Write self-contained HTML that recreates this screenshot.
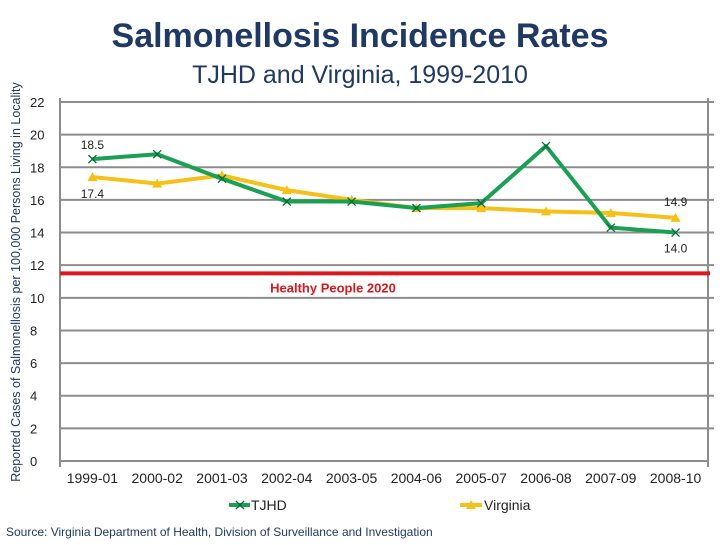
<!DOCTYPE html>
<html><head><meta charset="utf-8"><style>
body{margin:0;background:#fff;font-family:"Liberation Sans",sans-serif;}
svg text{font-family:"Liberation Sans",sans-serif;}
</style></head><body>
<svg id="c" width="720" height="540">
<text x="360" y="47" text-anchor="middle" font-size="34" font-weight="bold" fill="#1f3864">Salmonellosis Incidence Rates</text>
<text x="360" y="83" text-anchor="middle" font-size="25" fill="#1f3864">TJHD and Virginia, 1999-2010</text>
<text transform="translate(20,282) rotate(-90)" text-anchor="middle" font-size="12.5" fill="#1f3864">Reported Cases of Salmonellosis per 100,000 Persons Living in Locality</text>
<text x="6" y="536" font-size="12" fill="#1f3864">Source: Virginia Department of Health, Division of Surveillance and Investigation</text>
<g id="g"></g>
</svg>
<script>
const categories=["1999-01","2000-02","2001-03","2002-04","2003-05","2004-06","2005-07","2006-08","2007-09","2008-10"];
const tjhd=[18.5,18.8,17.3,15.9,15.9,15.5,15.8,19.3,14.3,14.0];
const virginia=[17.4,17.0,17.5,16.6,16.0,15.5,15.5,15.3,15.2,14.9];
const yTicks=[0,2,4,6,8,10,12,14,16,18,20,22];
const target=[11.5];
const L=60,R=708,T=102,B=461,yMax=22;
const NS="http://www.w3.org/2000/svg";
const g=document.getElementById('g');
function y(v){return B-(v/yMax)*(B-T);}
function x(i){return L+(i+0.5)*(R-L)/categories.length;}
function mk(t,a,p){const e=document.createElementNS(NS,t);for(const k in a)e.setAttribute(k,a[k]);(p||g).appendChild(e);return e;}
yTicks.forEach(v=>{
 if(v>0){const l=mk('line',{x1:L,x2:R+6,y1:y(v),y2:y(v),stroke:'#8c8c8c','stroke-width':2});
 
 }
 const t=mk('text',{x:30,y:y(v)+5,'font-size':13,fill:'#222'});t.textContent=v;
 
 
});
const ax=mk('line',{x1:L,x2:L,y1:T-4,y2:B+6,stroke:'#8c8c8c','stroke-width':2});


const ax2=mk('line',{x1:R,x2:R,y1:T-4,y2:B+6,stroke:'#8c8c8c','stroke-width':2});


const xa=mk('line',{x1:L,x2:R,y1:B,y2:B,stroke:'#8c8c8c','stroke-width':2});


categories.forEach((c,i)=>{
 const t=mk('text',{x:x(i),y:483,'font-size':14,'text-anchor':'middle',fill:'#222'});t.textContent=c;
 
 
});
const hp=mk('line',{x1:L,x2:R+2,y1:y(target[0]),y2:y(target[0]),stroke:'#d9181e','stroke-width':4});


const hpt=mk('text',{x:333,y:y(target[0])+19,'font-size':13,'font-weight':'bold','text-anchor':'middle',fill:'#d9181e'});hpt.textContent='Healthy People 2020';


function series(vals,col,name,marker){
 const p=mk('polyline',{points:vals.map((v,i)=>x(i)+','+y(v)).join(' '),fill:'none',stroke:col,'stroke-width':4,'stroke-linejoin':'round'});
 
 
 vals.forEach((v,i)=>{
  let m;
  if(marker==='x'){m=mk('path',{d:`M${x(i)-4},${y(v)-4}L${x(i)+4},${y(v)+4}M${x(i)-4},${y(v)+4}L${x(i)+4},${y(v)-4}`,stroke:'#0a6b3a','stroke-width':1.3});}
  else{m=mk('path',{d:`M${x(i)},${y(v)-5}L${x(i)+5},${y(v)+4}L${x(i)-5},${y(v)+4}Z`,fill:col});}
  
  
 });
}
series(virginia,'#f5c018','virginia','tri');
series(tjhd,'#1aa052','tjhd','x');
function lab(tx,px,py,n){const t=mk('text',{x:px,y:py,'font-size':12,'text-anchor':'middle',fill:'#222'});t.textContent=tx;
 
 }
lab(tjhd[0].toFixed(1),x(0),y(tjhd[0])-10,'tjhd-first-label');
lab(virginia[0].toFixed(1),x(0),y(virginia[0])+21,'virginia-first-label');
lab(virginia[9].toFixed(1),x(9),y(virginia[9])-12,'virginia-last-label');
lab(tjhd[9].toFixed(1),x(9),y(tjhd[9])+20,'tjhd-last-label');
// legend
const l1=mk('line',{x1:229,x2:250,y1:505,y2:505,stroke:'#1aa052','stroke-width':4});


mk('path',{d:'M236,501L244,509M236,509L244,501',stroke:'#0a6b3a','stroke-width':1.3});
const lt1=mk('text',{x:251,y:510,'font-size':14,fill:'#222'});lt1.textContent='TJHD';


const l2=mk('line',{x1:460,x2:482,y1:505,y2:505,stroke:'#f5c018','stroke-width':4});


mk('path',{d:'M471,500L476,509L466,509Z',fill:'#f5c018'});
const lt2=mk('text',{x:484,y:510,'font-size':14,fill:'#222'});lt2.textContent='Virginia';


</script>
</body></html>
